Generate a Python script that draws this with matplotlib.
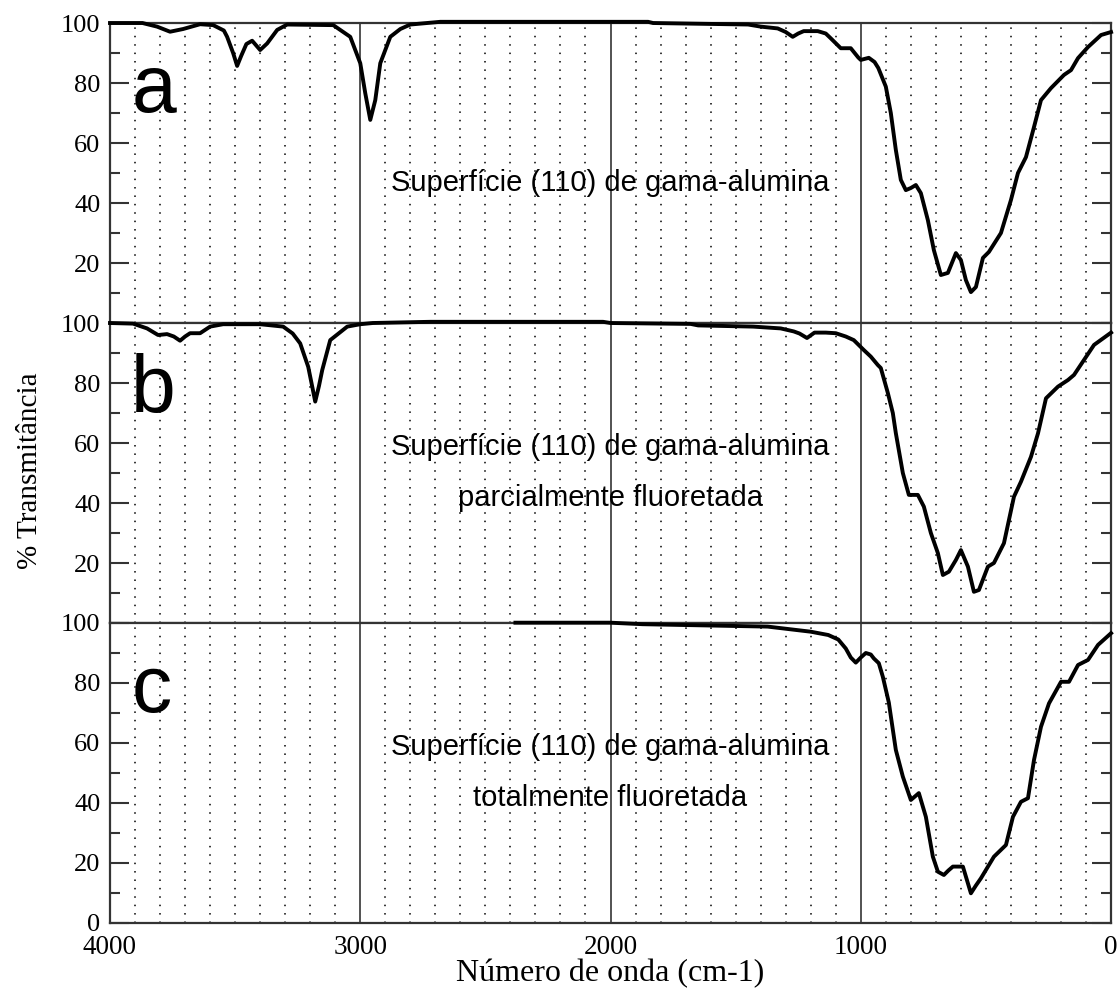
import matplotlib
matplotlib.use("Agg")
import matplotlib.pyplot as plt
from matplotlib.ticker import MultipleLocator

# spectrum a: superficie (110) de gama-alumina
wn_a = [4000, 3870, 3812, 3760, 3708, 3640, 3588, 3545, 3532, 3508, 3492, 3476, 3455, 3432,
        3400, 3372, 3332, 3292, 3108, 3040, 3000, 2980, 2960, 2940, 2920, 2880, 2840, 2800,
        2680, 1850, 1830, 1450, 1400, 1332, 1300, 1272, 1250, 1228, 1172, 1140, 1120, 1080,
        1040, 1010, 1000, 968, 945, 930, 900, 880, 860, 840, 820, 800, 780, 760, 732, 708,
        680, 652, 620, 600, 580, 560, 540, 512, 488, 440, 400, 372, 340, 308, 280, 240, 188,
        160, 132, 92, 40, 0]
tr_a = [100, 100, 98.8, 97.1, 98, 99.6, 99.3, 97.5, 95.4, 90, 85.7, 89, 93, 94.1,
        91, 93.2, 97.7, 99.5, 99.3, 95.4, 86.6, 76.6, 67.7, 74.3, 86.6, 95.4, 98, 99.5,
        100.4, 100.4, 100, 99.5, 98.8, 98.2, 97, 95.4, 96.5, 97.3, 97.3, 96.5, 94.9, 91.6,
        91.6, 88.5, 87.7, 88.4, 87, 85, 78.8, 70, 57.7, 47.7, 44.3, 45, 46, 43.3, 34.3, 24.3,
        16, 16.7, 23.3, 21, 14.3, 10.3, 12, 21.7, 23.7, 30, 41, 50, 55.3, 65.3, 74.3, 78.3, 82.7,
        84.3, 88.3, 92, 96, 97]

# spectrum b: parcialmente fluoretada
wn_b = [4000, 3908, 3852, 3808, 3772, 3745, 3720, 3700, 3680, 3640, 3600, 3548, 3400, 3308,
        3270, 3240, 3208, 3190, 3180, 3165, 3152, 3120, 3052, 3000, 2950, 2720, 2030, 2000,
        1680, 1650, 1430, 1320, 1268, 1245, 1215, 1185, 1140, 1100, 1060, 1028, 988, 960,
        932, 920, 892, 872, 860, 832, 808, 772, 748, 720, 692, 672, 648, 620, 600, 572, 548,
        528, 492, 468, 428, 388, 360, 320, 292, 260, 212, 172, 148, 108, 68, 0]
tr_b = [100, 99.8, 98.2, 96, 96.3, 95.5, 94.1, 95.5, 96.6, 96.6, 98.8, 99.6, 99.6, 98.8,
        96.5, 93.2, 85.4, 78, 73.8, 79, 84.3, 94.3, 98.8, 99.6, 100, 100.4, 100.4, 100,
        99.7, 99.2, 98.8, 98.2, 97.2, 96.5, 95, 96.8, 96.8, 96.6, 95.5, 94.3, 91, 88.8,
        86, 85, 76.7, 70, 63.3, 50, 42.7, 42.7, 38.8, 30, 23.3, 16, 17.1, 21, 24.3, 18.8, 10.4,
        11, 18.8, 20, 26.6, 42.1, 47.1, 55.4, 63.2, 74.9, 78.8, 81, 82.7, 87.7, 92.7, 96.8]

# spectrum c: totalmente fluoretada
wn_c = [2380, 2000, 1872, 1372, 1200, 1130, 1090, 1060, 1040, 1020, 1000, 980, 960, 948,
        928, 912, 888, 860, 832, 800, 768, 740, 712, 692, 668, 650, 632, 592, 560, 540, 520,
        468, 420, 392, 360, 332, 308, 280, 248, 200, 168, 132, 92, 52, 0]
tr_c = [100.1, 100.1, 99.6, 98.8, 97.1, 96, 94.5, 91.5, 88.5, 86.8, 88.5, 90, 89.5, 88.2,
        86.6, 82.1, 73.5, 57.7, 48.8, 41, 43.3, 35.4, 22.1, 17.1, 16, 17.5, 18.8, 18.8, 9.9, 12.5, 14.9,
        22.1, 26, 35.4, 40.4, 41.6, 54.3, 65.4, 73.2, 80.4, 80.4, 86, 87.7, 92.7, 96.6]

letters = ["a", "b", "c"]
captions = ["Superfície (110) de gama-alumina",
            "Superfície (110) de gama-alumina\nparcialmente fluoretada",
            "Superfície (110) de gama-alumina\ntotalmente fluoretada"]
x_ticks = [4000, 3000, 2000, 1000, 0]

serif = ["Liberation Serif", "DejaVu Serif"]
sans = ["Liberation Sans", "DejaVu Sans"]

fig, axes = plt.subplots(3, 1, sharex=True, figsize=(11.19, 9.88), dpi=100)
fig.subplots_adjust(left=0.0983, right=0.9929, top=0.9767, bottom=0.0658, hspace=0)

series = [(wn_a, tr_a), (wn_b, tr_b), (wn_c, tr_c)]
cap_y = [46.7, 50.2, 50.2]
for i, ax in enumerate(axes):
    wn, tr = series[i]
    ax.plot(wn, tr, color="black", lw=2.8, solid_joinstyle="round", clip_on=False, zorder=5)
    ax.set_xlim(4000, 0)
    ax.set_ylim(0, 100)
    ax.xaxis.set_major_locator(MultipleLocator(1000))
    ax.xaxis.set_minor_locator(MultipleLocator(100))
    ax.grid(which="major", axis="x", color="#444444", lw=1.3, ls="-")
    ax.grid(which="minor", axis="x", color="black", lw=1.1, ls=(0, (1, 4.5)))
    ax.set_axisbelow(True)
    ax.yaxis.set_major_locator(MultipleLocator(20))
    ax.yaxis.set_minor_locator(MultipleLocator(10))
    ax.tick_params(axis="y", which="major", direction="in", length=14, width=1.5,
                   left=True, right=True, labelsize=19, pad=7, color="#333333")
    ax.tick_params(axis="y", which="minor", direction="in", length=7, width=1.5,
                   left=True, right=True, color="#333333")
    ax.tick_params(axis="x", which="both", length=0, labelsize=19.5, pad=9)
    for sp in ax.spines.values():
        sp.set_linewidth(1.6)
        sp.set_color("#333333")
    if i < 2:
        ax.set_yticks([20, 40, 60, 80, 100])
        ax.set_yticklabels(["20", "40", "60", "80", "100"], family=serif)
    else:
        ax.set_yticks([0, 20, 40, 60, 80, 100])
        ax.set_yticklabels(["0", "20", "40", "60", "80", "100"], family=serif)
    ax.text(3915, 70.3, letters[i], fontsize=58, family=sans, ha="left", va="baseline")
    ax.text(2000, cap_y[i], captions[i], fontsize=21, family=sans, ha="center",
            va="center", linespacing=2.05)

axes[2].set_xticks(x_ticks)
axes[2].set_xticklabels([str(v) for v in x_ticks], family=serif)
axes[2].set_xlabel("Número de onda (cm-1)", family=serif, fontsize=23, labelpad=-1)
fig.text(0.027, 0.5237, "% Transmitância", family=serif, fontsize=21, rotation=90,
         ha="center", va="center")

fig.savefig("out.png", dpi=100)
